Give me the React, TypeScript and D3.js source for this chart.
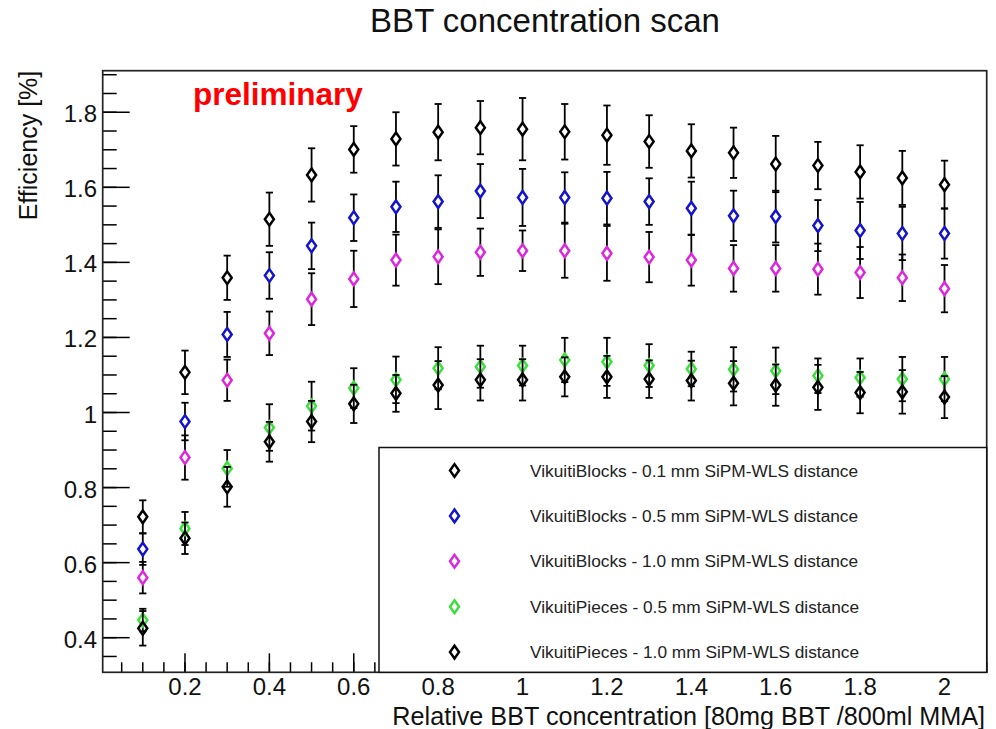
import React from "react";
import * as d3 from "d3";

// Relative BBT concentration (x) shared by all series
const concentration = [0.1, 0.2, 0.3, 0.4, 0.5, 0.6, 0.7, 0.8, 0.9, 1.0, 1.1, 1.2, 1.3, 1.4, 1.5, 1.6, 1.7, 1.8, 1.9, 2.0];

// Efficiency [%] and its uncertainty per configuration
const blocks01 = [0.722, 1.107, 1.359, 1.515, 1.633, 1.701, 1.729, 1.747, 1.759, 1.755, 1.748, 1.739, 1.722, 1.697, 1.692, 1.662, 1.658, 1.641, 1.625, 1.607];
const blocks01Err = [0.044, 0.058, 0.059, 0.071, 0.071, 0.062, 0.071, 0.075, 0.071, 0.083, 0.074, 0.079, 0.070, 0.071, 0.067, 0.075, 0.063, 0.071, 0.072, 0.064];

const blocks05 = [0.636, 0.976, 1.208, 1.365, 1.444, 1.519, 1.548, 1.562, 1.590, 1.573, 1.573, 1.571, 1.562, 1.544, 1.524, 1.522, 1.498, 1.485, 1.477, 1.477];
const blocks05Err = [0.042, 0.050, 0.060, 0.062, 0.062, 0.062, 0.067, 0.070, 0.072, 0.076, 0.067, 0.070, 0.062, 0.071, 0.067, 0.069, 0.068, 0.076, 0.071, 0.067];

const blocks10 = [0.560, 0.880, 1.086, 1.211, 1.302, 1.356, 1.406, 1.415, 1.427, 1.431, 1.431, 1.424, 1.414, 1.406, 1.384, 1.384, 1.382, 1.373, 1.359, 1.330];
const blocks10Err = [0.042, 0.059, 0.055, 0.058, 0.069, 0.075, 0.068, 0.073, 0.063, 0.054, 0.072, 0.073, 0.067, 0.068, 0.062, 0.062, 0.068, 0.068, 0.062, 0.063];

const pieces05 = [0.447, 0.691, 0.851, 0.960, 1.017, 1.065, 1.087, 1.118, 1.122, 1.125, 1.140, 1.135, 1.125, 1.116, 1.115, 1.111, 1.098, 1.093, 1.089, 1.089];
const pieces05Err = [0.030, 0.044, 0.049, 0.062, 0.065, 0.053, 0.062, 0.056, 0.056, 0.053, 0.059, 0.064, 0.057, 0.046, 0.059, 0.062, 0.046, 0.051, 0.059, 0.059];

const pieces10 = [0.425, 0.665, 0.802, 0.922, 0.976, 1.023, 1.051, 1.073, 1.087, 1.087, 1.095, 1.095, 1.089, 1.085, 1.078, 1.073, 1.067, 1.053, 1.055, 1.041];
const pieces10Err = [0.046, 0.042, 0.053, 0.053, 0.055, 0.051, 0.049, 0.064, 0.055, 0.055, 0.052, 0.056, 0.050, 0.053, 0.059, 0.055, 0.060, 0.055, 0.058, 0.056];

const seriesLabels = [
  "VikuitiBlocks - 0.1 mm SiPM-WLS distance",
  "VikuitiBlocks - 0.5 mm SiPM-WLS distance",
  "VikuitiBlocks - 1.0 mm SiPM-WLS distance",
  "VikuitiPieces - 0.5 mm SiPM-WLS distance",
  "VikuitiPieces - 1.0 mm SiPM-WLS distance",
];
const seriesColors = ["#000000", "#1414c8", "#dc28dc", "#3ce03c", "#000000"];

const xTickValues = [0.2, 0.4, 0.6, 0.8, 1.0, 1.2, 1.4, 1.6, 1.8, 2.0];
const yTickValues = [0.4, 0.6, 0.8, 1.0, 1.2, 1.4, 1.6, 1.8];

const W = 996;
const H = 729;
const frame = { left: 102.7, right: 986.7, top: 70.7, bottom: 672.3 };

const x = d3.scaleLinear().domain([0.005, 2.1]).range([frame.left, frame.right]);
const y = d3.scaleLinear().domain([0.3078, 1.9107]).range([frame.bottom, frame.top]);

const FONT = "'Liberation Sans', Arial, Helvetica, sans-serif";
const MW = 4.5; // diamond half-width
const MH = 6.4; // diamond half-height

function diamond(cx: number, cy: number) {
  return `M${cx},${cy - MH}L${cx + MW},${cy}L${cx},${cy + MH}L${cx - MW},${cy}Z`;
}

const fmt = (v: number) => String(+v.toFixed(2));

export default function App() {
  const series = [
    { values: blocks01, errs: blocks01Err },
    { values: blocks05, errs: blocks05Err },
    { values: blocks10, errs: blocks10Err },
    { values: pieces05, errs: pieces05Err },
    { values: pieces10, errs: pieces10Err },
  ].map((s, i) => ({ ...s, label: seriesLabels[i], color: seriesColors[i] }));

  const xMinor = d3.range(1, 43).map((i) => +(i * 0.05).toFixed(2)).filter((v) => x(v) <= frame.right);
  const yMinor = d3.range(7, 39).map((i) => +(i * 0.05).toFixed(2)).filter((v) => y(v) >= frame.top && y(v) <= frame.bottom);

  const legend = { left: 379, top: 447.5, right: frame.right, bottom: frame.bottom };
  const legendRowY = (i: number) => 470.5 + i * 45.4;

  return (
    <svg
      width={W}
      height={H}
      viewBox={`0 0 ${W} ${H}`}
      style={{ position: "absolute", left: 0, top: 0, background: "#fff" }}
      fontFamily={FONT}
    >
      <rect x={0} y={0} width={W} height={H} fill="#fff" />

      {/* title */}
      <text x={545} y={32} textAnchor="middle" fontSize={33} fill="#111">
        BBT concentration scan
      </text>

      {/* data: error bars then open diamonds */}
      {series.map((s, si) => (
        <g key={si}>
          {s.values.map((v, i) => {
            const cx = x(concentration[i]);
            const cy = y(v);
            const yHi = y(v + s.errs[i]);
            const yLo = y(v - s.errs[i]);
            return (
              <g key={i} stroke="#000" strokeWidth={1.8}>
                <line x1={cx} x2={cx} y1={yHi} y2={cy - MH} />
                <line x1={cx} x2={cx} y1={cy + MH} y2={yLo} />
                <line x1={cx - 3.6} x2={cx + 3.6} y1={yHi} y2={yHi} />
                <line x1={cx - 3.6} x2={cx + 3.6} y1={yLo} y2={yLo} />
              </g>
            );
          })}
          {s.values.map((v, i) => (
            <path
              key={"m" + i}
              d={diamond(x(concentration[i]), y(v))}
              fill="none"
              stroke={s.color}
              strokeWidth={2.5}
            />
          ))}
        </g>
      ))}

      {/* axes ticks */}
      <g stroke="#000" strokeWidth={1.5}>
        {xMinor.map((v) => (
          <line key={"xm" + v} x1={x(v)} x2={x(v)} y1={frame.bottom} y2={frame.bottom - 10} />
        ))}
        {xTickValues.map((v) => (
          <line key={"xM" + v} x1={x(v)} x2={x(v)} y1={frame.bottom} y2={frame.bottom - 19} />
        ))}
        {yMinor.map((v) => (
          <line key={"ym" + v} x1={frame.left} x2={frame.left + 14} y1={y(v)} y2={y(v)} />
        ))}
        {yTickValues.map((v) => (
          <line key={"yM" + v} x1={frame.left} x2={frame.left + 27} y1={y(v)} y2={y(v)} />
        ))}
      </g>

      {/* frame */}
      <rect
        x={frame.left}
        y={frame.top}
        width={frame.right - frame.left}
        height={frame.bottom - frame.top}
        fill="none"
        stroke="#222"
        strokeWidth={1.7}
      />

      {/* tick labels */}
      <g fontSize={24} fill="#111">
        {xTickValues.map((v) => (
          <text key={"xl" + v} x={x(v)} y={695} textAnchor="middle">
            {fmt(v)}
          </text>
        ))}
        {yTickValues.map((v) => (
          <text key={"yl" + v} x={97} y={y(v) + 10} textAnchor="end">
            {fmt(v)}
          </text>
        ))}
      </g>

      {/* axis titles */}
      <text x={985} y={724.5} textAnchor="end" fontSize={25.2} fill="#111">
        Relative BBT concentration [80mg BBT /800ml MMA]
      </text>
      <text
        transform={`translate(37, ${frame.top}) rotate(-90)`}
        textAnchor="end"
        fontSize={25}
        fill="#111"
      >
        Efficiency [%]
      </text>

      {/* preliminary tag */}
      <text x={193} y={105} fontSize={31.5} fontWeight="bold" fill="#ff0000">
        preliminary
      </text>

      {/* legend */}
      <rect
        x={legend.left}
        y={legend.top}
        width={legend.right - legend.left}
        height={legend.bottom - legend.top}
        fill="#fff"
        stroke="#111"
        strokeWidth={1.5}
      />
      {series.map((s, i) => (
        <g key={"lg" + i}>
          <path d={diamond(454.5, legendRowY(i))} fill="none" stroke={s.color} strokeWidth={2.5} />
          <text x={530} y={legendRowY(i) + 6} fontSize={17.3} fill="#222">
            {s.label}
          </text>
        </g>
      ))}
    </svg>
  );
}
